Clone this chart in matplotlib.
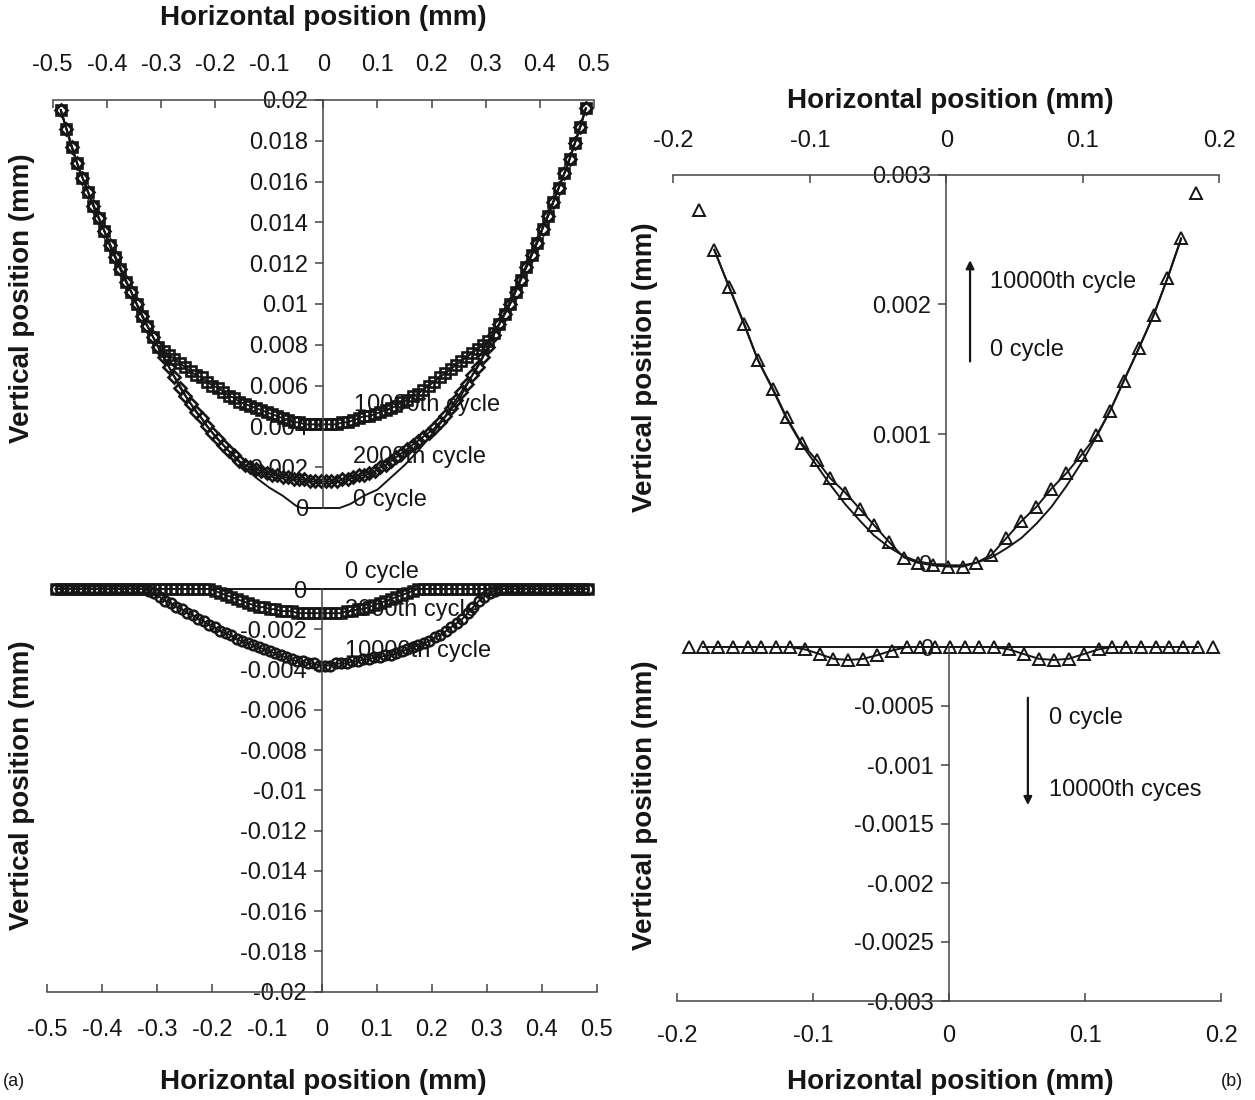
import numpy as np
import matplotlib
matplotlib.use('Agg')
import matplotlib.pyplot as plt

plt.rcParams['font.family'] = ['Liberation Sans', 'DejaVu Sans']

# ---------------- data: panel (a) ----------------
# horizontal positions of the measured points (mm)
xa = np.round(np.arange(-0.485, 0.4851, 0.01), 3)

# top (a): 10000th cycle (squares)
a_top_10000 = [0.0195, 0.0186, 0.0177, 0.0169, 0.0162, 0.0155, 0.0148, 0.0142, 0.0136, 0.0129,
               0.0123, 0.0117, 0.0111, 0.0106, 0.0100, 0.0094, 0.0089, 0.0084, 0.0079,
               0.0077, 0.0075, 0.0073, 0.0071, 0.0069, 0.0067, 0.0065, 0.0064, 0.0062, 0.0060,
               0.0059, 0.0057, 0.0055, 0.0054, 0.0052, 0.0051, 0.0050, 0.0049, 0.0048, 0.0047,
               0.0046, 0.0045, 0.0044, 0.0043, 0.0042, 0.0042, 0.0041, 0.0041, 0.0041, 0.0041,
               0.0041, 0.0041, 0.0041, 0.0042, 0.0042, 0.0043, 0.0044, 0.0045, 0.0045, 0.0046,
               0.0047, 0.0048, 0.0049, 0.0050, 0.0052, 0.0053, 0.0055, 0.0056, 0.0058, 0.0060,
               0.0062, 0.0064, 0.0066, 0.0068, 0.0070, 0.0072, 0.0074, 0.0076, 0.0078, 0.0080,
               0.0082, 0.0086, 0.0090, 0.0095, 0.0100, 0.0106, 0.0112, 0.0118, 0.0124, 0.0130,
               0.0137, 0.0143, 0.0150, 0.0157, 0.0164, 0.0171, 0.0179, 0.0187, 0.0196]

# top (a): 2000th cycle (diamonds)
a_top_2000 = [0.0195, 0.0186, 0.0177, 0.0169, 0.0162, 0.0155, 0.0148, 0.0142, 0.0136, 0.0129,
              0.0123, 0.0117, 0.0111, 0.0106, 0.0100, 0.0094, 0.0089, 0.0084, 0.0079,
              0.0074, 0.0069, 0.0064, 0.0059, 0.0055, 0.0051, 0.0047, 0.0044, 0.0040, 0.0037,
              0.0034, 0.0031, 0.0028, 0.0026, 0.0023, 0.0021, 0.0020, 0.0019, 0.0018, 0.0017,
              0.0016, 0.0016, 0.0015, 0.0015, 0.0014, 0.0014, 0.0014, 0.0013, 0.0013, 0.0013,
              0.0013, 0.0013, 0.0013, 0.0014, 0.0014, 0.0015, 0.0016, 0.0016, 0.0017, 0.0018,
              0.0020, 0.0021, 0.0023, 0.0025, 0.0027, 0.0029, 0.0031, 0.0033, 0.0035, 0.0037,
              0.0039, 0.0042, 0.0045, 0.0049, 0.0053, 0.0057, 0.0061, 0.0065, 0.0069, 0.0074,
              0.0079, 0.0085, 0.0090, 0.0095, 0.0100, 0.0106, 0.0112, 0.0118, 0.0124, 0.0130,
              0.0137, 0.0143, 0.0150, 0.0157, 0.0164, 0.0171, 0.0179, 0.0187, 0.0196]

# top (a): 0 cycle (solid line)
a_top_0_x = [-0.485, -0.45, -0.40, -0.35, -0.30, -0.25, -0.20, -0.175, -0.15, -0.125, -0.10,
             -0.075, -0.05, -0.04, 0.0, 0.03, 0.05, 0.075, 0.10, 0.125, 0.15, 0.175, 0.20,
             0.25, 0.30, 0.35, 0.40, 0.45, 0.485]
a_top_0 = [0.0195, 0.0165, 0.0133, 0.0103, 0.0076, 0.0053, 0.0035, 0.0028, 0.0021, 0.0015, 0.0010,
           0.0006, 0.0001, 0.0, 0.0, 0.0, 0.0002, 0.0006, 0.0009, 0.0015, 0.0021, 0.0028, 0.0036,
           0.0053, 0.0077, 0.0104, 0.0134, 0.0167, 0.0196]

# bottom (a): 2000th cycle (squares)
a_bot_2000 = [0.0] * 29 + [
    -0.0001, -0.0002, -0.0003, -0.0004, -0.0005, -0.0006, -0.0007, -0.0008, -0.0009, -0.0009,
    -0.0010, -0.0010, -0.0011, -0.0011, -0.0011, -0.0012, -0.0012, -0.0012, -0.0012, -0.0012,
    -0.0012, -0.0012, -0.0012, -0.0012, -0.0011, -0.0011, -0.0010, -0.0010, -0.0009, -0.0008,
    -0.0007, -0.0006, -0.0005, -0.0004, -0.0003, -0.0002, -0.0001] + [0.0] * 32

# bottom (a): 10000th cycle (circles)
a_bot_10000 = [0.0] * 17 + [
    -0.0001, -0.0002, -0.0004, -0.0006, -0.0007, -0.0009, -0.0010, -0.0012, -0.0013, -0.0015,
    -0.0016, -0.0018, -0.0019, -0.0021, -0.0022, -0.0023, -0.0025, -0.0026, -0.0027, -0.0028,
    -0.0029, -0.0030, -0.0031, -0.0032, -0.0033, -0.0034, -0.0035, -0.0036, -0.0036, -0.0037,
    -0.0037, -0.0038,
    -0.0038, -0.0038, -0.0037, -0.0037, -0.0037, -0.0036, -0.0036, -0.0035, -0.0035, -0.0034,
    -0.0034, -0.0033, -0.0033, -0.0032, -0.0031, -0.0030, -0.0029, -0.0028, -0.0027, -0.0026,
    -0.0024, -0.0023, -0.0021, -0.0019, -0.0017, -0.0015, -0.0012, -0.0009, -0.0006, -0.0004,
    -0.0002, -0.0001, 0.0] + [0.0] * 16

# bottom (a): 0 cycle (flat line)
a_bot_0_x = [-0.485, 0.485]
a_bot_0 = [0.0, 0.0]

# ---------------- data: panel (b) ----------------
b_top_x = [-0.181, -0.170, -0.159, -0.148, -0.138, -0.127, -0.117, -0.106, -0.095, -0.085,
           -0.074, -0.063, -0.053, -0.042, -0.031, -0.021, -0.010, 0.001, 0.012, 0.022,
           0.033, 0.044, 0.055, 0.066, 0.077, 0.088, 0.099, 0.110, 0.120, 0.130,
           0.141, 0.152, 0.162, 0.172, 0.183]
b_top_10000 = [0.00273, 0.00242, 0.00213, 0.00185, 0.00157, 0.00135, 0.00113, 0.00093, 0.00080, 0.00066,
               0.00055, 0.00042, 0.00030, 0.00017, 0.00005, 0.00001, -0.00001, -0.00002, -0.00002, 0.00001,
               0.00007, 0.00020, 0.00033, 0.00044, 0.00058, 0.00070, 0.00084, 0.00099, 0.00118, 0.00141,
               0.00166, 0.00192, 0.00220, 0.00251, 0.00286]
b_top_0_x = b_top_x[1:-1]
b_top_0 = [0.00242, 0.00213, 0.00184, 0.00157, 0.00134, 0.00112, 0.00092, 0.00076, 0.00061,
           0.00046, 0.00033, 0.00022, 0.00013, 0.00006, 0.00002, 0.0, -0.00001, -0.00001, 0.00001,
           0.00005, 0.00012, 0.00020, 0.00031, 0.00044, 0.00060, 0.00078, 0.00098, 0.00118, 0.00141,
           0.00166, 0.00192, 0.00220, 0.00250]

b_bot_x = [-0.191, -0.181, -0.170, -0.159, -0.148, -0.138, -0.127, -0.117, -0.106, -0.095,
           -0.085, -0.074, -0.063, -0.053, -0.042, -0.031, -0.021, -0.010, 0.001, 0.012,
           0.022, 0.033, 0.044, 0.055, 0.066, 0.077, 0.088, 0.099, 0.110, 0.120,
           0.130, 0.141, 0.152, 0.162, 0.172, 0.183, 0.194]
b_bot_10000 = [0.0, 0.0, 0.0, 0.0, 0.0, 0.0, 0.0, 0.0, -0.00002, -0.00006,
               -0.00010, -0.00011, -0.00010, -0.00007, -0.00003, 0.0, 0.0, 0.0, 0.0, 0.0,
               0.0, 0.0, -0.00002, -0.00006, -0.00010, -0.00011, -0.00010, -0.00006, -0.00002, 0.0,
               0.0, 0.0, 0.0, 0.0, 0.0, 0.0, 0.0]
b_bot_0_x = [-0.170, 0.172]
b_bot_0 = [0.0, 0.0]

a_xticks = [-0.5, -0.4, -0.3, -0.2, -0.1, 0.0, 0.1, 0.2, 0.3, 0.4, 0.5]
a_top_yticks = [0, 0.002, 0.004, 0.006, 0.008, 0.01, 0.012, 0.014, 0.016, 0.018, 0.02]
a_bot_yticks = [0, -0.002, -0.004, -0.006, -0.008, -0.01, -0.012, -0.014, -0.016, -0.018, -0.02]
b_xticks = [-0.2, -0.1, 0.0, 0.1, 0.2]
b_top_yticks = [0, 0.001, 0.002, 0.003]
b_bot_yticks = [0, -0.0005, -0.001, -0.0015, -0.002, -0.0025, -0.003]

# ---------------- figure ----------------
W, H = 1255, 1100
fig = plt.figure(figsize=(W / 100, H / 100), dpi=100)
INK = '#161616'
AX = '#444444'
FS = 17


def px(x0, y0, x1, y1):
    return [x0 / W, 1 - y1 / H, (x1 - x0) / W, (y1 - y0) / H]


def fmt(v):
    s = '{:g}'.format(round(v, 6))
    return '0' if s in ('-0', '0') else s


def style(ax, xlim, ylim, xt, yt, top, xpad):
    ax.set_xlim(*xlim)
    ax.set_ylim(*ylim)
    ax.patch.set_visible(False)
    ax.spines['right'].set_visible(False)
    ax.spines['left'].set_position(('data', 0))
    if top:
        ax.spines['bottom'].set_visible(False)
        ax.xaxis.set_ticks_position('top')
    else:
        ax.spines['top'].set_visible(False)
        ax.xaxis.set_ticks_position('bottom')
    for s in ax.spines.values():
        s.set_color(AX)
        s.set_linewidth(1.1)
    ax.yaxis.set_ticks_position('left')
    ax.set_xticks(xt)
    ax.set_xticklabels([fmt(v) for v in xt])
    ax.set_yticks(yt)
    ax.set_yticklabels([fmt(v) for v in yt])
    ax.tick_params(axis='x', direction='in', length=6, width=1.1, color=AX,
                   pad=xpad, labelsize=FS, labelcolor=INK)
    ax.tick_params(axis='y', direction='out', length=6, width=1.1, color=AX,
                   pad=5, labelsize=FS, labelcolor=INK)


lk = dict(color=INK, lw=1.4, clip_on=False)

# (a) top
ax1 = fig.add_axes(px(52.7, 100, 594, 508))
style(ax1, (-0.5, 0.5), (0, 0.02), a_xticks, a_top_yticks, True, 17)
ax1.plot(a_top_0_x, a_top_0, '-', **lk)
ax1.plot(xa, a_top_2000, '-', marker='D', ms=6.5, mfc='none', mec=INK, mew=1.9, **lk)
ax1.plot(xa, a_top_10000, '-', marker='s', ms=7.5, mfc='none', mec=INK, mew=1.9, **lk)
ax1.text(0.057, 0.00505, '10000th cycle', fontsize=FS, color=INK, va='center', ha='left')
ax1.text(0.055, 0.0025, '2000th cycle', fontsize=FS, color=INK, va='center', ha='left')
ax1.text(0.055, 0.0004, '0 cycle', fontsize=FS, color=INK, va='center', ha='left')

# (a) bottom
ax2 = fig.add_axes(px(47.3, 589, 596.7, 991.7))
style(ax2, (-0.5, 0.5), (-0.02, 0), a_xticks, a_bot_yticks, False, 20)
ax2.plot(a_bot_0_x, a_bot_0, '-', **lk)
ax2.plot(xa, a_bot_10000, '-', marker='o', ms=7, mfc='none', mec=INK, mew=1.8, **lk)
ax2.plot(xa, a_bot_2000, '-', marker='s', ms=7, mfc='none', mec=INK, mew=1.8, **lk)
ax2.text(0.042, 0.00085, '0 cycle', fontsize=FS, color=INK, va='center', ha='left')
ax2.text(0.042, -0.00105, '2000th cycle', fontsize=FS, color=INK, va='center', ha='left')
ax2.text(0.042, -0.0031, '10000th cycle', fontsize=FS, color=INK, va='center', ha='left')

# (b) top
ax3 = fig.add_axes(px(673.3, 174.5, 1219.3, 564))
style(ax3, (-0.2, 0.2), (0, 0.003), b_xticks, b_top_yticks, True, 16)
ax3.plot(b_top_0_x, b_top_0, '-', **lk)
ax3.plot(b_top_x[1:-1], b_top_10000[1:-1], '-', marker='^', ms=9, mfc='none', mec=INK, mew=1.4, **lk)
ax3.plot([b_top_x[0], b_top_x[-1]], [b_top_10000[0], b_top_10000[-1]], ls='none',
         marker='^', ms=9, mfc='none', mec=INK, mew=1.4, clip_on=False)
ax3.annotate('', xy=(0.0174, 0.00234), xytext=(0.0174, 0.00156),
             arrowprops=dict(arrowstyle='-|>', color=INK, lw=1.6, mutation_scale=12,
                             shrinkA=0, shrinkB=0))
ax3.text(0.032, 0.00217, '10000th cycle', fontsize=FS, color=INK, va='center', ha='left')
ax3.text(0.032, 0.00165, '0 cycle', fontsize=FS, color=INK, va='center', ha='left')

# (b) bottom
ax4 = fig.add_axes(px(677, 647, 1221, 1001))
style(ax4, (-0.2, 0.2), (-0.003, 0), b_xticks, b_bot_yticks, False, 17)
ax4.plot(b_bot_0_x, b_bot_0, '-', **lk)
ax4.plot(b_bot_x[1:-1], b_bot_10000[1:-1], '-', marker='^', ms=9, mfc='none', mec=INK, mew=1.4, **lk)
ax4.plot([b_bot_x[0], b_bot_x[-1]], [b_bot_10000[0], b_bot_10000[-1]], ls='none',
         marker='^', ms=9, mfc='none', mec=INK, mew=1.4, clip_on=False)
ax4.annotate('', xy=(0.058, -0.00134), xytext=(0.058, -0.00043),
             arrowprops=dict(arrowstyle='-|>', color=INK, lw=1.6, mutation_scale=12,
                             shrinkA=0, shrinkB=0))
ax4.text(0.0737, -0.0006, '0 cycle', fontsize=FS, color=INK, va='center', ha='left')
ax4.text(0.0737, -0.00121, '10000th cyces', fontsize=FS, color=INK, va='center', ha='left')

# axis titles
TB = dict(fontsize=20, fontweight='bold', color=INK, ha='center', va='center')
fig.text(323 / W, 1 - 18 / H, 'Horizontal position (mm)', **TB)
fig.text(950 / W, 1 - 101 / H, 'Horizontal position (mm)', **TB)
fig.text(323 / W, 1 - 1082 / H, 'Horizontal position (mm)', **TB)
fig.text(950 / W, 1 - 1082 / H, 'Horizontal position (mm)', **TB)
fig.text(22 / W, 1 - 298 / H, 'Vertical position (mm)', rotation=90, **TB)
fig.text(22 / W, 1 - 785 / H, 'Vertical position (mm)', rotation=90, **TB)
fig.text(645 / W, 1 - 367 / H, 'Vertical position (mm)', rotation=90, **TB)
fig.text(645 / W, 1 - 805 / H, 'Vertical position (mm)', rotation=90, **TB)
fig.text(14 / W, 1 - 1082 / H, '(a)', fontsize=13, color=INK, ha='center', va='center')
fig.text(1232 / W, 1 - 1082 / H, '(b)', fontsize=13, color=INK, ha='center', va='center')

fig.savefig('out.png', dpi=100)
